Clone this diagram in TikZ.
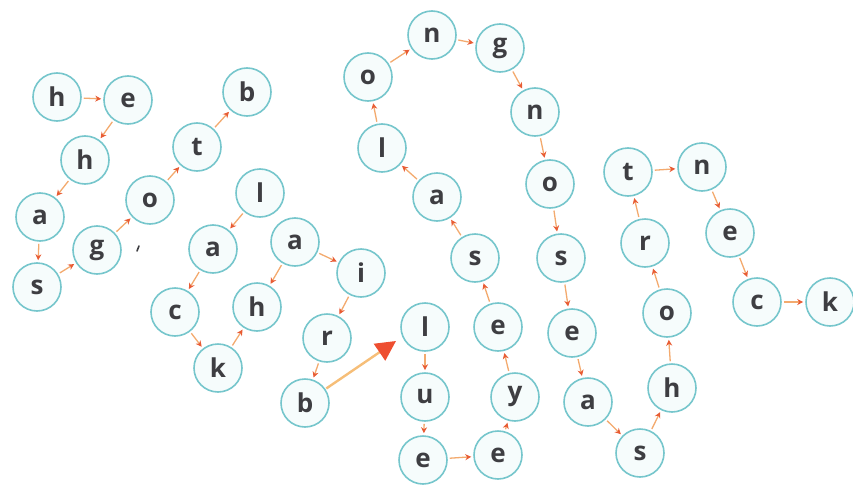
\documentclass[tikz,border=0pt]{standalone}
\usepackage{fontspec}
\setmainfont{Open Sans}
\usetikzlibrary{arrows.meta}
\definecolor{ring}{RGB}{118,198,204}
\definecolor{ringfill}{RGB}{246,252,252}
\definecolor{letter}{RGB}{62,62,66}
\definecolor{arline}{RGB}{243,170,110}
\definecolor{artip}{RGB}{232,92,52}
\definecolor{bigline}{RGB}{246,190,120}
\definecolor{bigtip}{RGB}{238,78,48}
\tikzset{
  bub/.style={circle,draw=ring,line width=1.6pt,fill=ringfill,minimum size=48pt,inner sep=0pt,
    text=letter,font=\fontsize{26}{26}\selectfont\bfseries},
  lnk/.style={draw=arline,line width=1.3pt,shorten <=2pt,shorten >=2pt,
    -{Stealth[length=6pt,width=6pt,color=artip]}},
  biglnk/.style={draw=bigline,line width=2.4pt,shorten <=1pt,
    -{Triangle[length=20pt,width=20pt,color=bigtip]}}
}
\begin{document}
\begin{tikzpicture}[x=1pt,y=-1pt]
\useasboundingbox (0,0) rectangle (853,495);
% nodes
\node[bub] (h1) at (57,97) {h};
\node[bub] (e1) at (128,100) {e};
\node[bub] (h2) at (85,160) {h};
\node[bub] (a1) at (40,217) {a};
\node[bub] (s1) at (37,287) {s};
\node[bub] (g1) at (97,250) {g};
\node[bub] (o1) at (150,200) {o};
\node[bub] (t1) at (197,147) {t};
\node[bub] (b1) at (247,92) {b};
\node[bub] (l1) at (260,193) {l};
\node[bub] (a2) at (213,249) {a};
\node[bub] (c1) at (175,312) {c};
\node[bub] (k1) at (218,368) {k};
\node[bub] (h3) at (257,307) {h};
\node[bub] (a3) at (295,242) {a};
\node[bub] (i1) at (361,273) {i};
\node[bub] (r1) at (327,338) {r};
\node[bub] (b2) at (305,403) {b};
\node[bub] (l3) at (425,327) {l};
\node[bub] (u1) at (425,397) {u};
\node[bub] (e4) at (423,460) {e};
\node[bub] (e5) at (498,455) {e};
\node[bub] (y1) at (515,397) {y};
\node[bub] (e2) at (498,327) {e};
\node[bub] (s2) at (475,258) {s};
\node[bub] (a4) at (437,197) {a};
\node[bub] (l2) at (382,148) {l};
\node[bub] (o2) at (368,77) {o};
\node[bub] (n1) at (432,35) {n};
\node[bub] (g2) at (500,48) {g};
\node[bub] (n2) at (535,112) {n};
\node[bub] (o3) at (550,184) {o};
\node[bub] (s3) at (561,258) {s};
\node[bub] (e3) at (572,333) {e};
\node[bub] (a5) at (588,402) {a};
\node[bub] (s4) at (640,453) {s};
\node[bub] (h4) at (672,388) {h};
\node[bub] (o4) at (667,313) {o};
\node[bub] (r2) at (645,243) {r};
\node[bub] (t2) at (628,172) {t};
\node[bub] (n3) at (702,167) {n};
\node[bub] (e6) at (730,233) {e};
\node[bub] (c2) at (757,302) {c};
\node[bub] (k2) at (830,302) {k};
% small arrows
\draw[lnk] (h1) -- (e1);
\draw[lnk] (e1) -- (h2);
\draw[lnk] (h2) -- (a1);
\draw[lnk] (a1) -- (s1);
\draw[lnk] (s1) -- (g1);
\draw[lnk] (g1) -- (o1);
\draw[lnk] (o1) -- (t1);
\draw[lnk] (t1) -- (b1);
\draw[lnk] (l1) -- (a2);
\draw[lnk] (a2) -- (c1);
\draw[lnk] (c1) -- (k1);
\draw[lnk] (k1) -- (h3);
\draw[lnk] (a3) -- (h3);
\draw[lnk] (a3) -- (i1);
\draw[lnk] (i1) -- (r1);
\draw[lnk] (r1) -- (b2);
\draw[lnk] (l3) -- (u1);
\draw[lnk] (u1) -- (e4);
\draw[lnk] (e4) -- (e5);
\draw[lnk] (e5) -- (y1);
\draw[lnk] (y1) -- (e2);
\draw[lnk] (e2) -- (s2);
\draw[lnk] (s2) -- (a4);
\draw[lnk] (a4) -- (l2);
\draw[lnk] (l2) -- (o2);
\draw[lnk] (o2) -- (n1);
\draw[lnk] (n1) -- (g2);
\draw[lnk] (g2) -- (n2);
\draw[lnk] (n2) -- (o3);
\draw[lnk] (o3) -- (s3);
\draw[lnk] (s3) -- (e3);
\draw[lnk] (e3) -- (a5);
\draw[lnk] (a5) -- (s4);
\draw[lnk] (s4) -- (h4);
\draw[lnk] (h4) -- (o4);
\draw[lnk] (o4) -- (r2);
\draw[lnk] (r2) -- (t2);
\draw[lnk] (t2) -- (n3);
\draw[lnk] (n3) -- (e6);
\draw[lnk] (e6) -- (c2);
\draw[lnk] (c2) -- (k2);
% big arrow
\coordinate (bigend) at (396,341);
\draw[biglnk] (b2) -- (bigend);
% stray tick mark
\draw[letter,line width=1.6pt,line cap=round] (137,251) -- (139,246);
\end{tikzpicture}
\end{document}
